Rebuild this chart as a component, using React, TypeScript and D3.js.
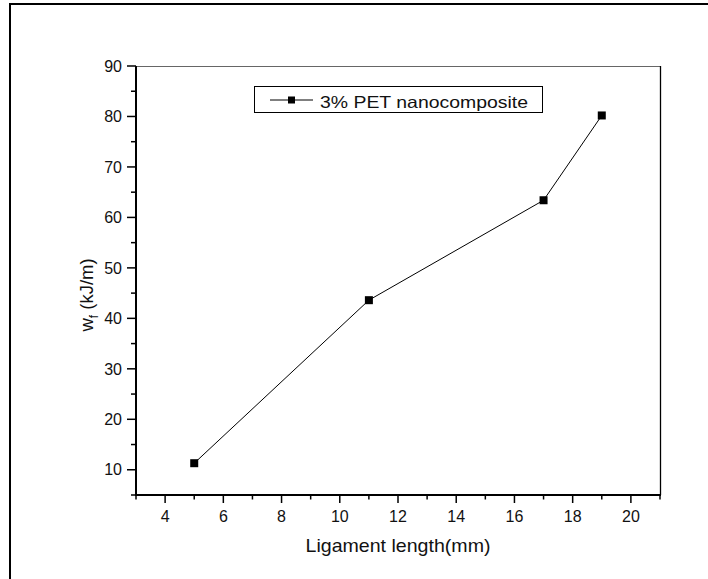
import React from "react";
import * as d3 from "d3";

const ligament = [5, 11, 17, 19];
const workOfFracture = [11.3, 43.6, 63.4, 80.2];
const xMajorTicks = [4, 6, 8, 10, 12, 14, 16, 18, 20];
const xMinorTicks = [3, 5, 7, 9, 11, 13, 15, 17, 19, 21];
const yMajorTicks = [10, 20, 30, 40, 50, 60, 70, 80, 90];
const yMinorTicks = [5, 15, 25, 35, 45, 55, 65, 75, 85];
const seriesName = "3% PET nanocomposite";
const xTitle = "Ligament length(mm)";

const W = 708;
const H = 579;
const L = 136, R = 660, T = 66, B = 495;
const FONT = "'Liberation Sans', Arial, Helvetica, sans-serif";

export default function App() {
  const x = d3.scaleLinear().domain([3, 21]).range([L, R]);
  const y = d3.scaleLinear().domain([5, 90]).range([B, T]);
  const pts = ligament.map((v, i) => [x(v), y(workOfFracture[i])] as [number, number]);
  const line = d3.line()(pts) || "";
  const ms = 8;

  return (
    <svg
      width={W}
      height={H}
      style={{ position: "absolute", left: 0, top: 0, display: "block", background: "#fff" }}
      fontFamily={FONT}
    >
      <rect x={0} y={0} width={W} height={H} fill="#fff" />
      {/* outer frame */}
      <line x1={10} x2={10} y1={3} y2={H} stroke="#000" strokeWidth={2} />
      <line x1={9} x2={W} y1={4} y2={4} stroke="#000" strokeWidth={2} />

      {/* plot frame top/right */}
      <line x1={L} x2={R} y1={T + 0.5} y2={T + 0.5} stroke="#666" strokeWidth={1.2} />
      <line x1={R + 0.5} x2={R + 0.5} y1={T} y2={B} stroke="#000" strokeWidth={1.3} />

      {/* x ticks */}
      {xMajorTicks.map((t) => (
        <g key={"xM" + t}>
          <line x1={x(t)} x2={x(t)} y1={B} y2={B + 8} stroke="#000" strokeWidth={1.5} />
          <text x={x(t)} y={521.5} textAnchor="middle" fontSize={16} fill="#111">
            {t}
          </text>
        </g>
      ))}
      {xMinorTicks.map((t) => (
        <line key={"xm" + t} x1={x(t)} x2={x(t)} y1={B} y2={B + 4.5} stroke="#000" strokeWidth={1.5} />
      ))}

      {/* y ticks */}
      {yMajorTicks.map((t) => (
        <g key={"yM" + t}>
          <line x1={L - 9} x2={L} y1={y(t)} y2={y(t)} stroke="#000" strokeWidth={1.5} />
          <text x={122} y={y(t) + 5.7} textAnchor="end" fontSize={16} fill="#111">
            {t}
          </text>
        </g>
      ))}
      {yMinorTicks.map((t) => (
        <line key={"ym" + t} x1={L - 5} x2={L} y1={y(t)} y2={y(t)} stroke="#000" strokeWidth={1.5} />
      ))}

      {/* axes */}
      <line x1={L} x2={L} y1={T} y2={B + 1} stroke="#000" strokeWidth={2} />
      <line x1={L - 1} x2={R + 1} y1={B} y2={B} stroke="#000" strokeWidth={2} />

      {/* data */}
      <path d={line} fill="none" stroke="#000" strokeWidth={1} />
      {pts.map(([px, py], i) => (
        <rect key={i} x={px - ms / 2} y={py - ms / 2} width={ms} height={ms} fill="#000" />
      ))}

      {/* legend */}
      <rect x={254.5} y={86.5} width={288} height={26} fill="#fff" stroke="#000" strokeWidth={1} />
      <line x1={270} x2={313} y1={100} y2={100} stroke="#000" strokeWidth={1} />
      <rect x={291.5 - 3.5} y={100 - 3.5} width={7} height={7} fill="#000" />
      <text x={320} y={107.5} fontSize={16.5} textLength={208} lengthAdjust="spacingAndGlyphs" fill="#111">
        {seriesName}
      </text>

      {/* axis titles */}
      <text x={398} y={552} textAnchor="middle" fontSize={19} textLength={185} lengthAdjust="spacingAndGlyphs" fill="#111">
        {xTitle}
      </text>
      <text transform="translate(92.5,295) rotate(-90)" textAnchor="middle" fontSize={18.5} fill="#111">
        <tspan>w</tspan>
        <tspan fontSize={12} dy={5}>f</tspan>
        <tspan dy={-5}> (kJ/m)</tspan>
      </text>
    </svg>
  );
}
